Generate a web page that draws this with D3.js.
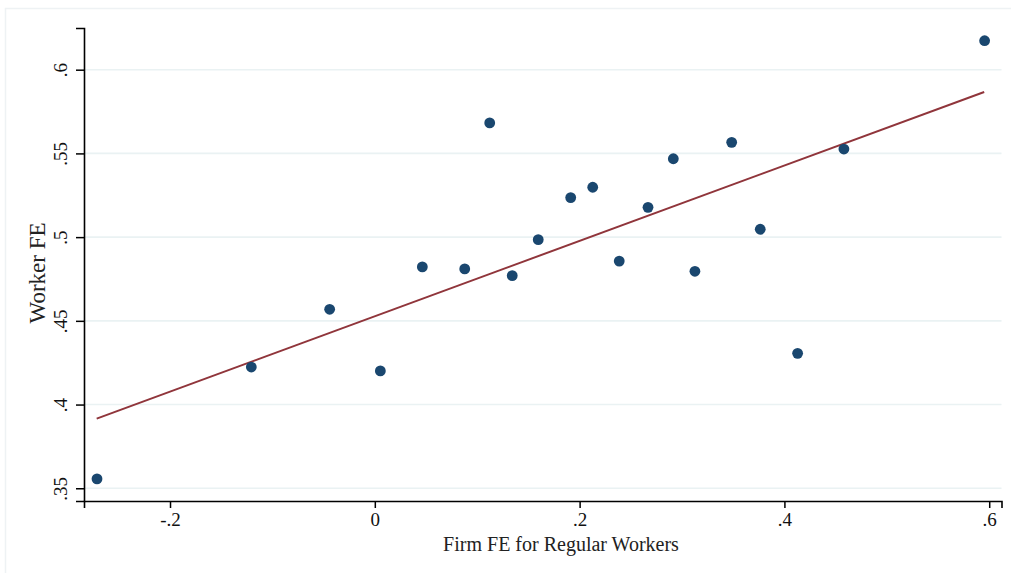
<!DOCTYPE html>
<html>
<head>
<meta charset="utf-8">
<script src="https://cdn.jsdelivr.net/npm/d3@7"></script>
<style>
  body { margin: 0; background: #fff; }
  svg { display: block; }
  .tick text { font-family: "Liberation Serif", "Times New Roman", serif; }
</style>
</head>
<body>
<svg id="chart"></svg>
<script>
// binned scatter: firm FE (x) vs worker FE (y)
const firmFE = [-0.2713, -0.1206, -0.0441, 0.0054, 0.0464, 0.0878, 0.1122, 0.1342, 0.1596, 0.1913,
                0.2128, 0.2387, 0.2668, 0.2915, 0.3126, 0.3485, 0.3764, 0.4129, 0.4581, 0.5955];
const workerFE = [0.3556, 0.4224, 0.4569, 0.4201, 0.4822, 0.4810, 0.5682, 0.4770, 0.4985, 0.5236,
                  0.5298, 0.4857, 0.5178, 0.5468, 0.4796, 0.5566, 0.5047, 0.4306, 0.5526, 0.6173];
const fitX = [-0.2716, 0.5951];
const fitY = [0.3916, 0.5867];
const xTicks = [-0.2, 0, 0.2, 0.4, 0.6];
const yTicks = [0.35, 0.4, 0.45, 0.5, 0.55, 0.6];
const xTitle = "Firm FE for Regular Workers";
const yTitle = "Worker FE";

const width = 1011, height = 573;
const plot = { left: 84, right: 1001.5, top: 28, bottom: 501 };
const serif = '"Liberation Serif", "Times New Roman", serif';

const fmt = v => {
  if (v === 0) return "0";
  let s = String(+v.toFixed(2));
  return s.replace("0.", ".");
};

const svg = d3.select("#chart")
  .attr("width", width)
  .attr("height", height);

// light outer frame
svg.append("rect")
  .attr("x", 5.5).attr("y", 8.5)
  .attr("width", width).attr("height", height)
  .attr("fill", "none")
  .attr("stroke", "#eef2f4")
  .attr("stroke-width", 1.5);

const xScale = d3.scaleLinear().domain([-0.284, 0.612]).range([plot.left, plot.right]);
const yScale = d3.scaleLinear().domain([0.3424, 0.6249]).range([plot.bottom, plot.top]);

// gridlines
svg.append("g")
  .selectAll("line")
  .data(yTicks)
  .join("line")
    .attr("x1", plot.left)
    .attr("x2", plot.right)
    .attr("y1", d => yScale(d))
    .attr("y2", d => yScale(d))
    .attr("stroke", "#eaf2f3")
    .attr("stroke-width", 1.6);

// fit line
const pts = fitX.map((x, i) => [x, fitY[i]]);
svg.append("path")
  .datum(pts)
  .attr("d", d3.line().x(d => xScale(d[0])).y(d => yScale(d[1])))
  .attr("fill", "none")
  .attr("stroke", "#90353b")
  .attr("stroke-width", 2);

// points
const data = firmFE.map((x, i) => ({ x: x, y: workerFE[i] }));
svg.append("g")
  .selectAll("circle")
  .data(data)
  .join("circle")
    .attr("cx", d => xScale(d.x))
    .attr("cy", d => yScale(d.y))
    .attr("r", 5.4)
    .attr("fill", "#1a476f");

// x axis
const xAxis = svg.append("g")
  .attr("transform", `translate(0, ${plot.bottom})`)
  .call(d3.axisBottom(xScale).tickValues(xTicks).tickFormat(fmt).tickSizeOuter(0).tickSize(7).tickPadding(5));
xAxis.select(".domain").attr("stroke", "#000").attr("stroke-width", 1.6);
xAxis.selectAll(".tick line").attr("stroke", "#000").attr("stroke-width", 1.5);
xAxis.selectAll(".tick text")
  .attr("font-size", 19)
  .attr("fill", "#111");

// y axis
const yAxis = svg.append("g")
  .attr("transform", `translate(${plot.left}, 0)`)
  .call(d3.axisLeft(yScale).tickValues(yTicks).tickFormat(fmt).tickSizeOuter(0).tickSize(8));
yAxis.select(".domain").attr("stroke", "#000").attr("stroke-width", 1.6);
yAxis.selectAll(".tick line").attr("stroke", "#000").attr("stroke-width", 1.5);
yAxis.selectAll(".tick text")
  .attr("x", null).attr("dy", null)
  .attr("transform", "translate(-17, 0) rotate(-90)")
  .attr("text-anchor", "middle")
  .attr("font-size", 19)
  .attr("fill", "#111");

// axis titles
svg.append("text")
  .attr("x", 561)
  .attr("y", 551)
  .attr("text-anchor", "middle")
  .attr("font-family", serif)
  .attr("font-size", 20)
  .attr("fill", "#222")
  .text(xTitle);

svg.append("text")
  .attr("transform", "translate(45, 273) rotate(-90)")
  .attr("text-anchor", "middle")
  .attr("font-family", serif)
  .attr("font-size", 23)
  .attr("fill", "#222")
  .text(yTitle);
</script>
</body>
</html>
